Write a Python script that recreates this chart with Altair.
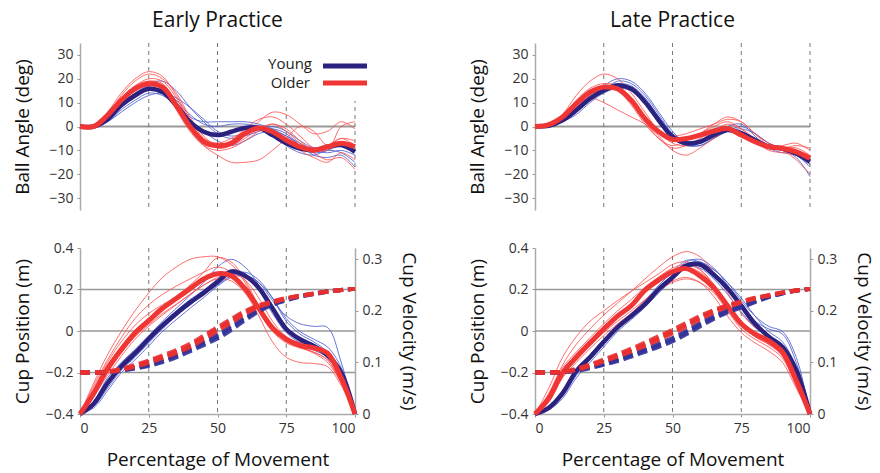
import altair as alt
import pandas as pd

FONT = "Open Sans"
NAVY = "#2b2280"
BLUE_THIN = "#4f5fd0"
RED = "#f03535"
RED_THIN = "#ff4a4a"

PCT = [0, 5, 10, 15, 20, 25, 30, 35, 40, 45, 50, 55, 60, 65, 70, 75, 80, 85, 90, 95, 100]

# ---------------- Ball angle (deg) : Early practice ----------------
EA_YOUNG_MEAN = [0, 0, 3, 8.9, 13, 15.8, 14.4, 8.9, 1.9, -2.2, -3.6, -2.2, -0.6, -0.6, -3.6, -7, -9.2, -9.9, -8.5, -7.8, -10.6]
EA_OLDER_MEAN = [0, 0, 4.7, 11, 15.8, 17.9, 16.5, 8.9, 0, -6.4, -8, -7, -2.9, -0.6, -2.2, -5.7, -8.5, -9.9, -8.5, -7, -8.5]
EA_YOUNG_TRIALS = [
    [0, 0, 3, 9, 14, 17, 16, 11, 5, 1, 0, 1, 1, 0, -3, -8, -11, -12, -10, -11, -15],
    [0, 0, 2, 6, 10, 13, 14, 12, 8, 3, -2, -4, -3, -1, 0, -2, -6, -9, -9, -7, -9],
    [0, 0, 3, 8, 13, 16, 15, 10, 4, 2, 2, 2, 2, 1, -1, -4, -7, -10, -11, -10, -12],
    [0, 0, 4, 10, 15, 18, 19, 15, 8, 2, -3, -5, -4, -2, -1, -3, -8, -11, -10, -8, -10],
    [0, 0, 2, 7, 11, 14, 13, 9, 3, -2, -6, -8, -6, -3, -2, -4, -8, -12, -13, -12, -17],
]
EA_OLDER_TRIALS = [
    [0, 0, 6, 14, 20, 23, 21, 13, 3, -5, -9, -8, -4, 2, 6, 5, 1, -3, -2, 2, -1],
    [0, 0, 5, 12, 17, 20, 19, 12, 2, -6, -9, -8, -5, -1, 1, -1, -6, -11, -14, -13, -18],
    [0, 0, 4, 11, 16, 19, 18, 10, 0, -8, -12, -15, -15, -14, -10, -5, 0, -2, -8, -5, -8],
    [0, 0, 5, 13, 19, 22, 20, 14, 4, -4, -8, -6, -1, 3, 4, 1, -4, -9, -10, 0, 2],
    [0, 0, 3, 9, 14, 16, 15, 9, 1, -5, -7, -5, -2, 0, -2, -6, -10, -13, -15, -11, -14],
    [0, 0, 5, 12, 17, 19, 17, 7, -2, -8, -10, -9, -6, -2, 1, -2, -7, -10, -8, -5, -6],
]

# ---------------- Ball angle (deg) : Late practice ----------------
LA_YOUNG_MEAN = [0, 0.3, 2.6, 6.8, 11.7, 15.1, 17.2, 15.8, 10.3, 2.6, -4.3, -7, -6.4, -3.6, -1.5, -2.9, -5.7, -8.5, -9.2, -11.3, -14.7]
LA_OLDER_MEAN = [0, 0.8, 4, 9.6, 14.4, 16.5, 15.8, 11, 3.3, -2.2, -5.4, -5, -3.6, -1.9, -0.8, -3.6, -6.4, -8.5, -9.2, -10.6, -13.3]
LA_YOUNG_TRIALS = [
    [0, 0, 2, 6, 11, 15, 18, 17, 12, 4, -3, -6, -6, -3, -1, -2, -5, -8, -9, -12, -16],
    [0, 0, 3, 7, 12, 17, 20, 19, 14, 6, -2, -7, -8, -5, -2, -1, -3, -7, -9, -11, -14],
    [0, 0, 2, 5, 10, 14, 16, 15, 11, 4, -4, -8, -8, -5, -2, 0, -3, -7, -10, -12, -17],
    [0, 0, 3, 8, 13, 16, 18, 16, 10, 2, -5, -8, -7, -4, -1, -2, -6, -9, -10, -13, -21],
    [0, 0, 2, 6, 11, 15, 19, 18, 13, 5, -3, -7, -6, -3, 0, 1, -4, -9, -11, -11, -15],
]
LA_OLDER_TRIALS = [
    [0, 0, 5, 13, 19, 22, 20, 14, 6, -2, -7, -8, -6, -2, 1, -1, -5, -8, -9, -9, -12],
    [0, 0, 4, 9, 12, 10, 7, 4, 1, -4, -10, -12, -9, -5, -2, -4, -7, -9, -10, -14, -20],
    [0, 0, 3, 9, 14, 17, 16, 11, 3, -2, -4, -3, -1, 1, 3, 2, -3, -8, -9, -8, -9],
    [0, 0, 4, 11, 16, 18, 17, 12, 4, -3, -6, -5, -3, 0, 2, -1, -6, -10, -11, -12, -14],
    [0, 0, 3, 8, 13, 16, 15, 10, 2, -5, -9, -8, -5, -2, -1, -3, -7, -9, -8, -7, -10],
    [0, 0, 4, 10, 15, 17, 15, 9, 1, -5, -8, -6, -3, 1, 4, 2, -3, -7, -9, -11, -16],
]

# ---------------- Cup velocity (m/s) ----------------
EV_YOUNG_MEAN = [0, 0.02, 0.06, 0.092, 0.118, 0.146, 0.172, 0.195, 0.216, 0.235, 0.256, 0.276, 0.268, 0.245, 0.205, 0.165, 0.145, 0.132, 0.114, 0.08, 0]
EV_OLDER_MEAN = [0, 0.04, 0.088, 0.125, 0.157, 0.181, 0.205, 0.224, 0.243, 0.262, 0.272, 0.268, 0.243, 0.205, 0.167, 0.145, 0.133, 0.128, 0.118, 0.07, 0]
EV_YOUNG_TRIALS = [
    [0, 0.015, 0.05, 0.085, 0.11, 0.138, 0.165, 0.19, 0.212, 0.232, 0.255, 0.275, 0.27, 0.255, 0.22, 0.19, 0.175, 0.17, 0.168, 0.1, 0],
    [0, 0.025, 0.07, 0.1, 0.125, 0.152, 0.18, 0.205, 0.23, 0.255, 0.285, 0.3, 0.285, 0.25, 0.205, 0.165, 0.145, 0.13, 0.112, 0.07, 0],
    [0, 0.018, 0.055, 0.088, 0.112, 0.14, 0.167, 0.19, 0.213, 0.232, 0.25, 0.268, 0.275, 0.26, 0.225, 0.18, 0.155, 0.14, 0.12, 0.08, 0],
    [0, 0.022, 0.065, 0.097, 0.122, 0.15, 0.176, 0.2, 0.222, 0.24, 0.262, 0.28, 0.272, 0.24, 0.195, 0.158, 0.138, 0.124, 0.11, 0.07, 0],
    [0, 0.012, 0.045, 0.08, 0.105, 0.132, 0.16, 0.183, 0.205, 0.226, 0.248, 0.265, 0.268, 0.255, 0.225, 0.185, 0.16, 0.145, 0.13, 0.09, 0],
]
EV_OLDER_TRIALS = [
    [0, 0.06, 0.115, 0.16, 0.2, 0.235, 0.265, 0.285, 0.3, 0.305, 0.305, 0.29, 0.255, 0.205, 0.165, 0.14, 0.13, 0.12, 0.105, 0.06, 0],
    [0, 0.05, 0.1, 0.14, 0.172, 0.195, 0.212, 0.228, 0.25, 0.275, 0.303, 0.295, 0.26, 0.21, 0.17, 0.145, 0.13, 0.118, 0.1, 0.06, 0],
    [0, 0.04, 0.08, 0.118, 0.15, 0.173, 0.195, 0.213, 0.232, 0.25, 0.262, 0.258, 0.235, 0.19, 0.14, 0.11, 0.1, 0.098, 0.092, 0.055, 0],
    [0, 0.045, 0.09, 0.13, 0.162, 0.186, 0.208, 0.226, 0.245, 0.26, 0.27, 0.265, 0.242, 0.205, 0.168, 0.148, 0.138, 0.13, 0.12, 0.075, 0],
    [0, 0.035, 0.075, 0.112, 0.145, 0.17, 0.192, 0.212, 0.232, 0.25, 0.265, 0.272, 0.26, 0.225, 0.18, 0.15, 0.135, 0.125, 0.112, 0.065, 0],
    [0, 0.055, 0.105, 0.148, 0.185, 0.212, 0.232, 0.248, 0.262, 0.275, 0.285, 0.275, 0.245, 0.2, 0.16, 0.138, 0.128, 0.12, 0.105, 0.06, 0],
]
LV_YOUNG_MEAN = [0, 0.012, 0.04, 0.083, 0.11, 0.14, 0.168, 0.19, 0.213, 0.242, 0.265, 0.288, 0.29, 0.27, 0.244, 0.21, 0.175, 0.15, 0.13, 0.085, 0]
LV_OLDER_MEAN = [0, 0.03, 0.08, 0.11, 0.138, 0.165, 0.19, 0.21, 0.24, 0.26, 0.276, 0.282, 0.268, 0.245, 0.21, 0.175, 0.155, 0.142, 0.12, 0.065, 0]
LV_YOUNG_TRIALS = [
    [0, 0.01, 0.035, 0.075, 0.105, 0.135, 0.165, 0.188, 0.212, 0.24, 0.265, 0.29, 0.295, 0.28, 0.255, 0.22, 0.19, 0.17, 0.16, 0.11, 0],
    [0, 0.015, 0.045, 0.088, 0.115, 0.145, 0.172, 0.195, 0.22, 0.25, 0.275, 0.298, 0.295, 0.275, 0.245, 0.205, 0.17, 0.152, 0.135, 0.09, 0],
    [0, 0.008, 0.03, 0.07, 0.1, 0.13, 0.16, 0.183, 0.207, 0.235, 0.26, 0.283, 0.29, 0.28, 0.255, 0.225, 0.19, 0.16, 0.14, 0.09, 0],
    [0, 0.014, 0.042, 0.085, 0.112, 0.142, 0.17, 0.192, 0.216, 0.244, 0.268, 0.285, 0.283, 0.262, 0.232, 0.198, 0.168, 0.15, 0.13, 0.08, 0],
    [0, 0.01, 0.038, 0.078, 0.108, 0.138, 0.166, 0.19, 0.214, 0.242, 0.27, 0.295, 0.3, 0.283, 0.25, 0.21, 0.18, 0.165, 0.155, 0.1, 0],
]
LV_OLDER_TRIALS = [
    [0, 0.04, 0.095, 0.135, 0.165, 0.192, 0.215, 0.238, 0.262, 0.285, 0.305, 0.315, 0.305, 0.275, 0.235, 0.195, 0.168, 0.15, 0.13, 0.075, 0],
    [0, 0.05, 0.11, 0.15, 0.18, 0.2, 0.22, 0.238, 0.255, 0.272, 0.29, 0.295, 0.28, 0.25, 0.21, 0.175, 0.15, 0.135, 0.115, 0.06, 0],
    [0, 0.025, 0.07, 0.1, 0.127, 0.152, 0.175, 0.195, 0.22, 0.24, 0.255, 0.262, 0.255, 0.235, 0.2, 0.165, 0.145, 0.13, 0.108, 0.055, 0],
    [0, 0.035, 0.085, 0.115, 0.142, 0.168, 0.192, 0.214, 0.238, 0.258, 0.275, 0.285, 0.275, 0.25, 0.212, 0.175, 0.152, 0.138, 0.115, 0.06, 0],
    [0, 0.03, 0.078, 0.105, 0.132, 0.158, 0.18, 0.2, 0.222, 0.242, 0.258, 0.265, 0.255, 0.228, 0.19, 0.158, 0.138, 0.122, 0.1, 0.05, 0],
    [0, 0.038, 0.09, 0.12, 0.148, 0.175, 0.2, 0.222, 0.246, 0.266, 0.283, 0.29, 0.28, 0.252, 0.212, 0.172, 0.15, 0.135, 0.112, 0.058, 0],
]

# ---------------- Cup position (m), dashed ----------------
EP_YOUNG = [
    [-0.2, -0.2, -0.198, -0.19, -0.178, -0.164, -0.145, -0.12, -0.09, -0.06, -0.027, 0.015, 0.06, 0.1, 0.13, 0.15, 0.167, 0.178, 0.19, 0.198, 0.203],
    [-0.2, -0.2, -0.197, -0.188, -0.174, -0.158, -0.138, -0.112, -0.082, -0.05, -0.016, 0.025, 0.068, 0.105, 0.133, 0.153, 0.169, 0.18, 0.191, 0.198, 0.203],
    [-0.2, -0.2, -0.199, -0.192, -0.181, -0.168, -0.15, -0.127, -0.098, -0.068, -0.036, 0.005, 0.052, 0.094, 0.126, 0.148, 0.165, 0.177, 0.189, 0.197, 0.203],
]
EP_OLDER = [
    [-0.2, -0.2, -0.197, -0.185, -0.168, -0.148, -0.125, -0.1, -0.07, -0.03, 0.01, 0.05, 0.09, 0.12, 0.14, 0.157, 0.17, 0.18, 0.19, 0.198, 0.203],
    [-0.2, -0.2, -0.196, -0.182, -0.163, -0.142, -0.118, -0.092, -0.062, -0.022, 0.018, 0.058, 0.096, 0.124, 0.143, 0.159, 0.171, 0.181, 0.191, 0.198, 0.203],
    [-0.2, -0.2, -0.198, -0.188, -0.172, -0.153, -0.131, -0.107, -0.078, -0.04, 0.0, 0.04, 0.082, 0.115, 0.137, 0.155, 0.168, 0.179, 0.189, 0.197, 0.203],
]
LP_YOUNG = [
    [-0.2, -0.2, -0.198, -0.19, -0.176, -0.159, -0.14, -0.118, -0.094, -0.069, -0.043, -0.008, 0.03, 0.065, 0.095, 0.117, 0.142, 0.165, 0.182, 0.195, 0.203],
    [-0.2, -0.2, -0.197, -0.188, -0.172, -0.154, -0.134, -0.111, -0.087, -0.061, -0.034, 0.0, 0.038, 0.072, 0.1, 0.122, 0.146, 0.167, 0.183, 0.195, 0.203],
    [-0.2, -0.2, -0.199, -0.192, -0.179, -0.163, -0.145, -0.124, -0.1, -0.076, -0.05, -0.016, 0.022, 0.058, 0.09, 0.113, 0.139, 0.163, 0.181, 0.194, 0.203],
]
LP_OLDER = [
    [-0.2, -0.2, -0.197, -0.185, -0.165, -0.142, -0.118, -0.092, -0.064, -0.034, -0.003, 0.03, 0.065, 0.095, 0.12, 0.14, 0.158, 0.172, 0.185, 0.195, 0.202],
    [-0.2, -0.2, -0.196, -0.182, -0.161, -0.137, -0.112, -0.085, -0.056, -0.025, 0.006, 0.039, 0.073, 0.101, 0.124, 0.143, 0.16, 0.173, 0.186, 0.196, 0.202],
    [-0.2, -0.2, -0.198, -0.188, -0.169, -0.147, -0.124, -0.099, -0.072, -0.043, -0.012, 0.021, 0.057, 0.089, 0.116, 0.137, 0.156, 0.171, 0.184, 0.195, 0.202],
]

PANEL_TITLES = ["Early Practice", "Late Practice"]
LEGEND_LABELS = ["Young", "Older"]
VLINES_TOP = [25, 50, 75, 100]
VLINES_BOTTOM = [25, 50, 75]
HLINES_BOTTOM = [-0.2, 0, 0.2]
ANGLE_TICKS = [-30, -20, -10, 0, 10, 20, 30]
POS_TICKS = [-0.4, -0.2, 0, 0.2, 0.4]
VEL_TICKS = [0, 0.1, 0.2, 0.3]
X_TICKS = [0, 25, 50, 75, 100]

W = 275
H_TOP = 167
H_BOT = 166


def long_df(series_list, prefix):
    rows = []
    for i, s in enumerate(series_list):
        for p, v in zip(PCT, s):
            rows.append({"pct": p, "val": v, "sid": f"{prefix}{i}"})
    return pd.DataFrame(rows)


XSCALE = alt.Scale(domain=[0, 100], nice=False, zero=False)

AXIS_LBL = dict(labelFont=FONT, labelFontSize=14, labelColor="#333", labelPadding=4,
                tickSize=3, tickColor="#999", domainColor="#aaa", domainWidth=1.5,
                grid=False, titleFont=FONT, titleFontSize=19, titleFontWeight="normal",
                titleColor="#111")

ONE = pd.DataFrame({"a": [0]})


def lines(df, color, width, opacity=1.0, dash=None, x=None, y=None):
    kw = dict(interpolate="catmull-rom", color=color, strokeWidth=width, opacity=opacity)
    if dash:
        kw["strokeDash"] = dash
    return alt.Chart(df).mark_line(**kw).encode(x=x, y=y, detail="sid:N")


def angle_panel(title, y_mean, o_mean, y_trials, o_trials, legend):
    x = alt.X("pct:Q", scale=XSCALE, axis=None)
    y = alt.Y("val:Q", scale=alt.Scale(domain=[-35, 35], nice=False, zero=False),
              axis=alt.Axis(values=ANGLE_TICKS, format="d", title="Ball Angle (deg)",
                            titleX=-58, titleY=H_TOP / 2, titleBaseline="middle", **AXIS_LBL))
    layers = [
        alt.Chart(pd.DataFrame({"val": [0]})).mark_rule(color="#999", strokeWidth=2).encode(y=y),
        alt.Chart(pd.DataFrame({"pct": VLINES_TOP})).mark_rule(color="#777", strokeDash=[4, 4], strokeWidth=1).encode(x=x),
        alt.Chart(ONE).mark_text(text=title, align="center", baseline="alphabetic", font=FONT,
                                 fontSize=21, color="#111").encode(x=alt.value(W / 2), y=alt.value(-16)),
    ]
    if legend:
        layers += [
            alt.Chart(ONE).mark_rect(color="white").encode(
                x=alt.value(190), x2=alt.value(292), y=alt.value(0), y2=alt.value(58)),
            alt.Chart(ONE).mark_text(text=LEGEND_LABELS[0], align="right", baseline="middle", font=FONT,
                                     fontSize=15, color="#222").encode(x=alt.value(232), y=alt.value(21)),
            alt.Chart(ONE).mark_text(text=LEGEND_LABELS[1], align="right", baseline="middle", font=FONT,
                                     fontSize=15, color="#222").encode(x=alt.value(230), y=alt.value(40)),
            alt.Chart(ONE).mark_rule(color=NAVY, strokeWidth=5).encode(
                x=alt.value(243), x2=alt.value(287), y=alt.value(23)),
            alt.Chart(ONE).mark_rule(color=RED, strokeWidth=5).encode(
                x=alt.value(243), x2=alt.value(287), y=alt.value(40)),
        ]
    layers += [
        lines(long_df(y_trials, "yt"), BLUE_THIN, 1, 0.85, x=x, y=y),
        lines(long_df(o_trials, "ot"), RED_THIN, 1, 0.8, x=x, y=y),
        lines(long_df([y_mean], "ym"), NAVY, 4.5, x=x, y=y),
        lines(long_df([o_mean], "om"), RED, 5, x=x, y=y),
    ]
    return alt.layer(*layers).properties(width=W, height=H_TOP)


def cup_panel(yv_mean, ov_mean, yv_trials, ov_trials, yp, op):
    x = alt.X("pct:Q", scale=XSCALE,
              axis=alt.Axis(values=X_TICKS, format="d", title="Percentage of Movement",
                            titleY=45, titleBaseline="middle", **AXIS_LBL))
    pos_scale = alt.Scale(domain=[-0.4, 0.4], nice=False, zero=False)
    vel_scale = alt.Scale(domain=[0, 0.322], nice=False, zero=False)
    y_grid = alt.Y("val:Q", scale=pos_scale, axis=None)
    y_vel_axis = alt.Y("val:Q", scale=vel_scale,
                       axis=alt.Axis(orient="right", values=VEL_TICKS, format=".1~f",
                                     title="Cup Velocity (m/s)", titleAngle=90, titleX=53,
                                     titleY=H_BOT / 2, titleBaseline="middle", **AXIS_LBL))
    y_vel = alt.Y("val:Q", scale=vel_scale, axis=None)
    y_pos_axis = alt.Y("val:Q", scale=pos_scale,
                       axis=alt.Axis(orient="left", values=POS_TICKS, format=".1~f",
                                     title="Cup Position (m)", titleX=-58, titleY=H_BOT / 2,
                                     titleBaseline="middle", **AXIS_LBL))
    y_pos = alt.Y("val:Q", scale=pos_scale, axis=None)
    layers = [
        alt.Chart(pd.DataFrame({"val": HLINES_BOTTOM})).mark_rule(color="#999", strokeWidth=1.5).encode(y=y_grid),
        alt.Chart(pd.DataFrame({"pct": VLINES_BOTTOM})).mark_rule(color="#777", strokeDash=[4, 4], strokeWidth=1).encode(x=x),
        lines(long_df(yv_trials, "yt"), BLUE_THIN, 1, 0.85, x=x, y=y_vel_axis),
        lines(long_df(ov_trials, "ot"), RED_THIN, 1, 0.8, x=x, y=y_vel),
        lines(long_df([yv_mean], "ym"), NAVY, 4.5, x=x, y=y_vel),
        lines(long_df([ov_mean], "om"), RED, 5, x=x, y=y_vel),
        lines(long_df(yp, "yp"), "#33339a", 4, 0.9, dash=[10, 5], x=x, y=y_pos),
        lines(long_df(op, "op"), "#e83030", 4, 0.9, dash=[10, 5], x=x, y=y_pos_axis),
    ]
    return alt.layer(*layers).resolve_scale(y="independent").properties(width=W, height=H_BOT)


chart = alt.concat(
    angle_panel(PANEL_TITLES[0], EA_YOUNG_MEAN, EA_OLDER_MEAN, EA_YOUNG_TRIALS, EA_OLDER_TRIALS, True),
    angle_panel(PANEL_TITLES[1], LA_YOUNG_MEAN, LA_OLDER_MEAN, LA_YOUNG_TRIALS, LA_OLDER_TRIALS, False),
    cup_panel(EV_YOUNG_MEAN, EV_OLDER_MEAN, EV_YOUNG_TRIALS, EV_OLDER_TRIALS, EP_YOUNG, EP_OLDER),
    cup_panel(LV_YOUNG_MEAN, LV_OLDER_MEAN, LV_YOUNG_TRIALS, LV_OLDER_TRIALS, LP_YOUNG, LP_OLDER),
    columns=2, spacing={"row": 38, "column": 180}, bounds="flush",
).properties(
    autosize=alt.AutoSizeParams(type="none"),
    padding={"left": 80, "top": 43, "right": 800, "bottom": 430},
    background="white",
).configure_view(stroke=None)

chart.save("out.html", embed_options={"renderer": "svg", "actions": False})
